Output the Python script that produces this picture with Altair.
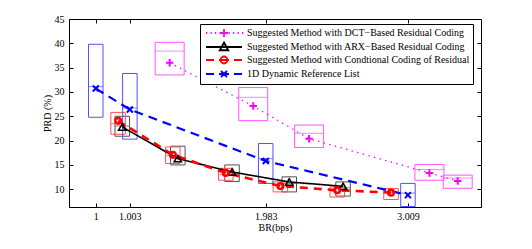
import altair as alt
import pandas as pd

# ---------------- data ----------------
names = [
    "Suggested Method with DCT\u2212Based Residual Coding",
    "Suggested Method with ARX\u2212Based Residual Coding",
    "Suggested Method with Condtional Coding of Residual",
    "1D Dynamic Reference List",
]

dct_x = [1.290, 1.893, 2.296, 3.164, 3.368]
dct_y = [36.0, 27.1, 20.4, 13.35, 11.7]
dct_lo = [33.5, 24.1, 18.6, 11.85, 10.2]
dct_hi = [40.2, 30.9, 23.2, 15.1, 12.9]
dct_med = [38.4, 28.9, 21.5, 14.05, 12.3]

arx_x = [0.948, 1.349, 1.740, 2.153, 2.541]
arx_y = [22.8, 16.3, 13.55, 11.5, 10.6]
arx_lo = [20.9, 15.0, 11.6, 9.45, 8.6]
arx_hi = [25.0, 18.85, 15.0, 12.55, 11.5]
arx_med = [23.0, 16.4, 13.4, 11.2, 10.3]

cond_x = [0.918, 1.313, 1.695, 2.089, 2.499, 2.887]
cond_y = [24.06, 17.1, 13.35, 10.65, 9.8, 9.3]
cond_lo = [21.3, 15.3, 11.85, 9.45, 8.4, 7.9]
cond_hi = [25.8, 18.7, 14.3, 11.5, 10.5, 10.15]
cond_med = [23.5, 16.9, 13.0, 10.8, 9.6, 9.3]

ref_x = [0.757, 1.003, 1.983, 3.009]
ref_y = [30.7, 26.4, 15.8, 8.8]
ref_lo = [24.8, 20.3, 11.2, 6.45]
ref_hi = [39.8, 33.8, 19.4, 11.2]
ref_med = [31.1, 26.7, 16.3, 9.2]

x_tick_values = [0.757, 1.003, 1.983, 3.009]
x_tick_labels = ["1", "1.003", "1.983", "3.009"]
y_tick_values = [10, 15, 20, 25, 30, 35, 40, 45]

# ---------------- styles ----------------
colors = ["#ff00ff", "#000000", "#ff0000", "#0000ff"]
box_colors = ["#ff55ff", "#505050", "#ff5050", "#5050ff"]
box_widths = [29, 14.5, 14.5, 14.5]
line_dash = [[1.4, 4.4], [1, 0], [8, 6], [9, 6]]
line_width = [1.3, 1.6, 2.6, 2.2]
marker_shape = ["M-1,0L1,0M0,-1L0,1", "triangle-up", "circle", "M-1,-1L1,1M-1,1L1,-1"]
marker_size = [56, 55, 32, 36]
marker_sw = [2, 1.5, 2.5, 2]
W, H = 412, 188


def dots(x0, x1, step, seg):
    out = ""
    x = x0
    while x < x1:
        out += "M%.2f,0L%.2f,0" % (x, x + seg)
        x += step
    return out


legend_paths = [
    dots(-3.6, 3.6, 0.9, 0.25) + "M-0.8,0L0.8,0M0,-0.8L0,0.8",
    "M-3.6,0L3.6,0M0,-0.9L0.85,0.65L-0.85,0.65Z",
    "M-3.6,0L-2,0M-1,0L1,0M2,0L3.6,0M0.7,0A0.7,0.7,0,1,1,-0.7,0A0.7,0.7,0,1,1,0.7,0",
    "M-3.6,0L-2,0M-1,0L1,0M2,0L3.6,0M-0.6,-0.6L0.6,0.6M-0.6,0.6L0.6,-0.6",
]

series = [
    (dct_x, dct_y, dct_lo, dct_hi, dct_med),
    (arx_x, arx_y, arx_lo, arx_hi, arx_med),
    (cond_x, cond_y, cond_lo, cond_hi, cond_med),
    (ref_x, ref_y, ref_lo, ref_hi, ref_med),
]

x_scale = alt.Scale(domain=[0.6, 3.5], nice=False, zero=False)
y_scale = alt.Scale(domain=[6.35, 45], nice=False, zero=False)

label_expr = "%s[indexof(%s, datum.value)]" % (
    "[" + ",".join("'%s'" % s for s in x_tick_labels) + "]",
    "[" + ",".join(str(v) for v in x_tick_values) + "]",
)

box_layers, med_layers, line_layers, point_layers = [], [], [], []
for i, (xs, ys, lo, hi, med) in enumerate(series):
    df = pd.DataFrame({"x": xs, "y": ys, "lo": lo, "hi": hi, "med": med})
    base = alt.Chart(df)
    X = alt.X("x:Q", scale=x_scale, axis=None)
    box_layers.append(
        base.mark_bar(width=box_widths[i], fillOpacity=0, stroke=box_colors[i], strokeWidth=1)
        .encode(x=X, y=alt.Y("lo:Q", scale=y_scale, axis=None), y2="hi:Q")
    )
    med_layers.append(
        base.mark_tick(orient="horizontal", size=box_widths[i], thickness=1, color=box_colors[i])
        .encode(x=X, y=alt.Y("med:Q", scale=y_scale, axis=None))
    )
    line_layers.append(
        base.mark_line(color=colors[i], strokeDash=line_dash[i], strokeWidth=line_width[i])
        .encode(x=X, y=alt.Y("y:Q", scale=y_scale, axis=None))
    )
    point_layers.append(
        base.mark_point(shape=marker_shape[i], size=marker_size[i], filled=False,
                        strokeWidth=marker_sw[i], color=colors[i], opacity=1)
        .encode(x=X, y=alt.Y("y:Q", scale=y_scale, axis=None))
    )

# ---------------- axes (labels outside, ticks inside on all four sides) ----------------
carrier_df = pd.DataFrame({"x": ref_x, "y": ref_y})
carrier = alt.Chart(carrier_df)

axes_main = carrier.mark_point(opacity=0).encode(
    x=alt.X("x:Q", scale=x_scale, axis=alt.Axis(
        values=x_tick_values, labelExpr=label_expr, title="BR(bps)", ticks=False,
        labelPadding=4, titlePadding=1, grid=False)),
    y=alt.Y("y:Q", scale=y_scale, axis=alt.Axis(
        values=y_tick_values, title="PRD (%)", ticks=False,
        labelPadding=5, titlePadding=2, grid=False)),
)
axes_in1 = carrier.mark_point(opacity=0).encode(
    x=alt.X("x:Q", scale=x_scale, axis=alt.Axis(
        orient="top", offset=-H, values=x_tick_values, labels=False, domain=False,
        tickSize=4, title=None, grid=False)),
    y=alt.Y("y:Q", scale=y_scale, axis=alt.Axis(
        orient="right", offset=-W, values=y_tick_values, labels=False, domain=False,
        tickSize=4, title=None, grid=False)),
)
axes_in2 = carrier.mark_point(opacity=0).encode(
    x=alt.X("x:Q", scale=x_scale, axis=alt.Axis(
        orient="bottom", offset=-H, values=x_tick_values, labels=False, domain=False,
        tickSize=4, title=None, grid=False)),
    y=alt.Y("y:Q", scale=y_scale, axis=alt.Axis(
        orient="left", offset=-W, values=y_tick_values, labels=False, domain=False,
        tickSize=4, title=None, grid=False)),
)

# ---------------- legend ----------------
legend = alt.Legend(
    title=None, orient="none", legendX=131, legendY=5,
    strokeColor="black", fillColor="white", padding=3, rowPadding=-3.5,
    symbolOffset=15, labelOffset=17, labelFont="Liberation Serif",
    labelFontSize=10, labelColor="black", symbolStrokeWidth=1.8,
    symbolSize=100, labelLimit=0, symbolOpacity=1,
)
legend_df = pd.DataFrame({"series": names})
legend_layer = alt.Chart(legend_df).mark_point(opacity=0, filled=False, size=100, strokeWidth=1.8).encode(
    color=alt.Color("series:N", scale=alt.Scale(domain=names, range=colors), legend=legend),
    shape=alt.Shape("series:N", scale=alt.Scale(domain=names, range=legend_paths), legend=legend),
)

chart = alt.layer(
    *box_layers, *med_layers, *line_layers, *point_layers,
    axes_main, axes_in1, axes_in2, legend_layer,
).resolve_axis(x="independent", y="independent").properties(
    width=W, height=H,
    autosize=alt.AutoSizeParams(type="none"),
    padding={"left": 61, "top": 11, "right": 40, "bottom": 30},
).configure_view(stroke="black", strokeWidth=1).configure_axis(
    domainColor="black", tickColor="black", labelColor="black", titleColor="black",
    labelFont="Liberation Serif", titleFont="Liberation Serif",
    labelFontSize=10, titleFontSize=10, titleFontWeight="normal",
).configure_legend(
    labelFont="Liberation Serif", labelFontSize=10, labelColor="black",
)

chart.save("out.html", embed_options={"renderer": "svg", "actions": False})
